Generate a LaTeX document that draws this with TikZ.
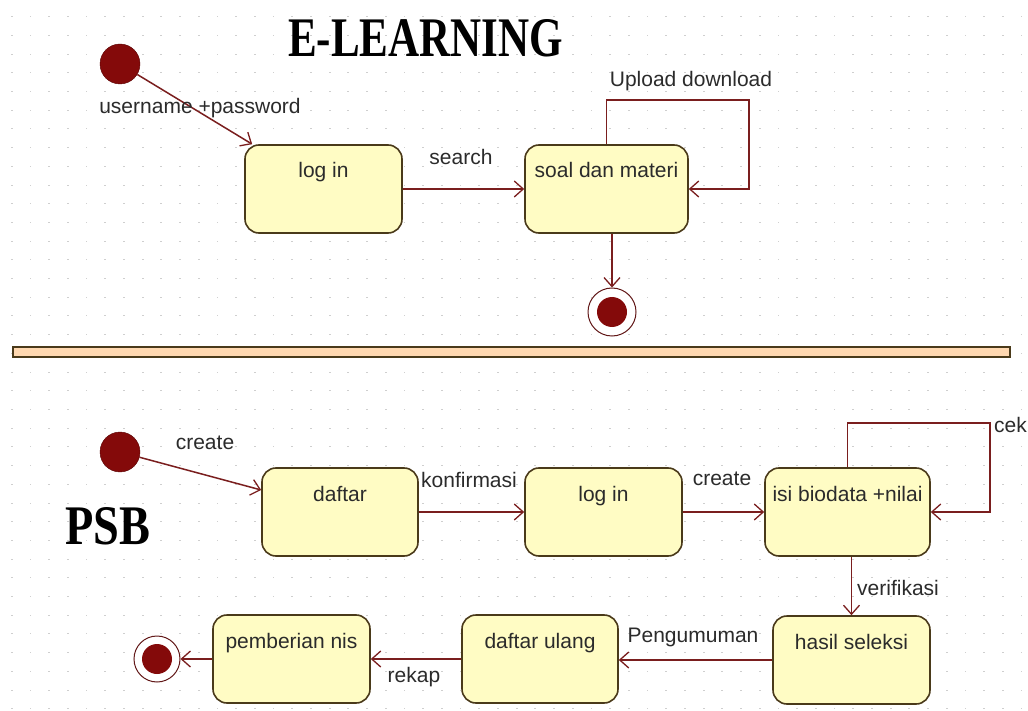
\documentclass[tikz,border=0pt]{standalone}
\usepackage{fontspec}
\setmainfont{Liberation Sans}
\newfontfamily\titlefont{Liberation Serif}
\usetikzlibrary{arrows.meta,calc}
\definecolor{lnred}{HTML}{7A1E1E}
\definecolor{boxfill}{HTML}{FFFCC4}
\definecolor{boxline}{HTML}{4A3A1A}
\definecolor{dotred}{HTML}{840A0A}
\definecolor{txt}{HTML}{2B2B2B}
\definecolor{barfill}{HTML}{FFD8B0}
\definecolor{griddot}{HTML}{CFCFCF}
\begin{document}
\begin{tikzpicture}[x=1pt,y=-1pt,
  state/.style={draw=boxline, line width=1.6pt, fill=boxfill, rounded corners=14pt,
    inner sep=0pt, text height=33pt, text depth=55pt,
    font=\fontsize{21}{24}\selectfont, text=txt},
  trans/.style={draw=lnred, line width=1.5pt,
    -{Straight Barb[length=9pt,width=16pt,line width=1.3pt]}},
  lbl/.style={font=\fontsize{21}{24}\selectfont, text=txt, inner sep=0pt},
  initst/.style={circle, fill=dotred, draw=dotred!70!black, minimum size=40pt, inner sep=0pt},
  finalout/.style={circle, draw=lnred!80!black, fill=white, minimum size=48pt, inner sep=0pt, line width=1pt},
  finalin/.style={circle, fill=dotred, minimum size=30pt, inner sep=0pt},
  titlest/.style={inner sep=0pt, anchor=south west}
]
\useasboundingbox (0,0) rectangle (1028,711);
\fill[white] (0,0) rectangle (1028,711);
\foreach \i in {0,...,54}{
  \foreach \j in {0,...,37}{
    \fill[griddot] ({11.7+18.7*\i-0.9},{16.8+18.7*\j-0.5}) rectangle ++(1.8,1);
  }
}

% titles
\node[titlest] (title1) at (288,57) {\resizebox{275pt}{37pt}{\titlefont\bfseries E-LEARNING}};
\node[titlest] (title2) at (65,545) {\resizebox{85pt}{37pt}{\titlefont\bfseries PSB}};

% separator
\draw[boxline, line width=1.6pt, fill=barfill] (13,347) rectangle (1010,357);

% ---------- E-learning ----------
\node[initst] (init1) at (120,64) {};
\node[state, minimum width=157pt] (login1) at (323.5,189) {log in};
\node[state, minimum width=163pt] (soal) at (606.5,189) {soal dan materi};
\node[finalout] (final1) at (612,312) {};
\node[finalin] (final1in) at (612,312) {};
\coordinate (login1in) at ($(login1.north west)+(8,0)$);
\coordinate (loop1) at (749,100);

\draw[trans] (init1) -- (login1in);
\draw[trans] (login1.east) -- (soal.west);
\draw[trans] (soal.north) |- (loop1) |- (soal.east);
\draw[trans] (soal.south -| final1) -- (final1.north);

\node[lbl] (l1) at (200,108) {username +password};
\node[lbl] (l2) at (461,157) {search};
\node[lbl] (l3) at (691,81) {Upload download};

% ---------- PSB ----------
\node[initst] (init2) at (120,452) {};
\node[state, minimum width=156pt] (daftar) at (340,512) {daftar};
\node[state, minimum width=157pt] (login2) at (603.5,512) {log in};
\node[state, minimum width=165pt] (isi) at (847.5,512) {isi biodata +nilai};
\node[state, minimum width=157pt] (hasil) at (851.5,660) {hasil seleksi};
\node[state, minimum width=156pt] (dulang) at (540,659) {daftar ulang};
\node[state, minimum width=157pt] (pember) at (291.5,659) {pemberian nis};
\node[finalout, minimum size=46pt] (final2) at (157,659) {};
\node[finalin] (final2in) at (157,659) {};
\coordinate (daftarin) at ($(daftar.west)+(0,-22)$);
\coordinate (loop2) at (990,423);

\draw[trans] (init2) -- (daftarin);
\draw[trans] (daftar.east) -- (login2.west);
\draw[trans] (login2.east) -- (isi.west);
\draw[trans] (isi.north) |- (loop2) |- (isi.east);
\draw[trans] (hasil.north |- isi.south) -- (hasil.north);
\draw[trans] (hasil.west) -- (hasil.west -| dulang.east);
\draw[trans] (dulang.west) -- (dulang.west -| pember.east);
\draw[trans] (pember.west) -- (final2.east);

\node[lbl] (l4) at (205,443) {create};
\node[lbl] (l5) at (469,480) {konfirmasi};
\node[lbl] (l6) at (722,479) {create};
\node[lbl, anchor=west] (l7) at (994,425) {cek};
\node[lbl, anchor=west] (l8) at (857,588) {verifikasi};
\node[lbl] (l9) at (693,637) {Pengumuman};
\node[lbl] (l10) at (414,677) {rekap};
\end{tikzpicture}
\end{document}
